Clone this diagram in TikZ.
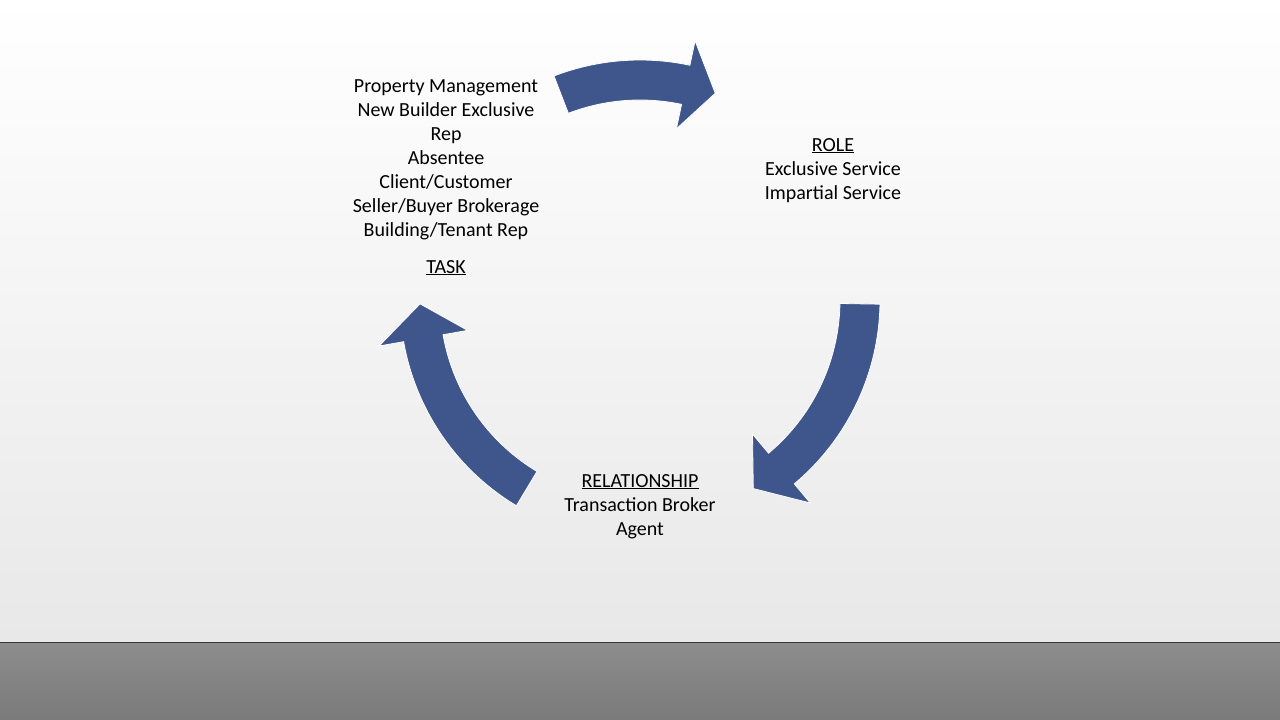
\documentclass[tikz,border=0pt]{standalone}
\usepackage{fontspec}
\setmainfont{Carlito}
\definecolor{arr}{RGB}{62,86,140}
\newcommand{\ul}[1]{\underline{\smash{#1}}}
\begin{document}
\begin{tikzpicture}[x=1pt,y=-1pt,
  txt/.style={align=center,font=\fontsize{20}{24}\selectfont,anchor=north,inner sep=0pt},
  blockarrow/.style={fill=arr,draw=white,line width=0.8pt}]
\useasboundingbox (0,0) rectangle (1280,720);
\shade[top color=white,bottom color=black!9] (0,0) rectangle (1280,642);
\shade[top color=black!45,bottom color=black!52] (0,642) rectangle (1280,720);
\draw[black!80,line width=1pt] (0,642) -- (1280,642);
\begin{scope}[shift={(640,300)}]
\foreach \a/\b/\c [count=\i] in {-111/-78/-70, 1/50/59, 121/170/179}{
  \path[blockarrow] (\a:240) arc[start angle=\a,end angle=\b,radius=240]
    -- (\b:265) -- (\c:220) -- (\b:175) -- (\b:200)
    arc[start angle=\b,end angle=\a,radius=200] -- cycle;
}
\end{scope}
\node[txt] (task) at (446,79) {Property Management\\New Builder Exclusive\\Rep\\Absentee\\Client/Customer\\Seller/Buyer Brokerage\\Building/Tenant Rep};
\node[txt] (tasklbl) at (446,273) {\ul{TASK}};
\node[txt] (role) at (833,151) {\ul{ROLE}\\Exclusive Service\\Impartial Service};
\node[txt] (rel) at (640,487) {\ul{RELATIONSHIP}\\Transaction Broker\\Agent};
\end{tikzpicture}
\end{document}
